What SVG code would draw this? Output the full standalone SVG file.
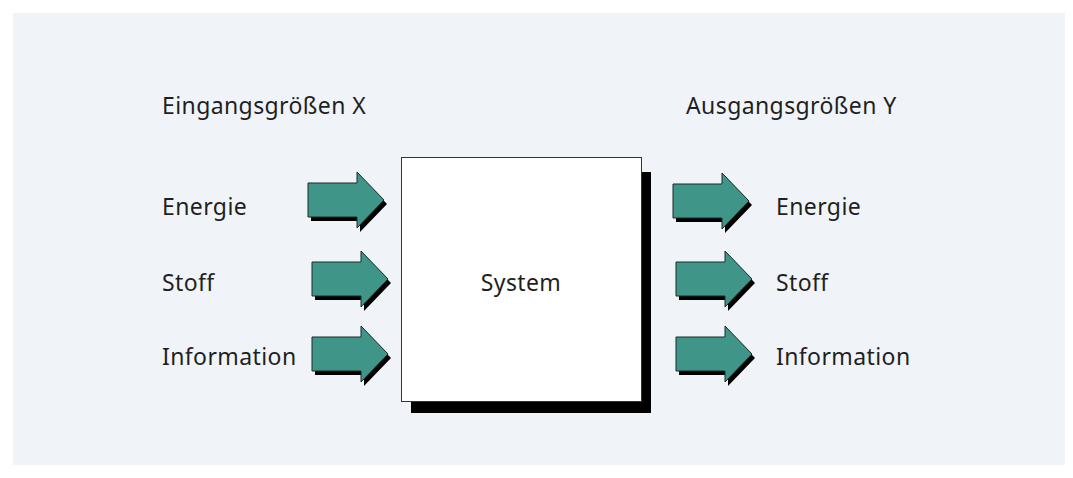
<svg xmlns="http://www.w3.org/2000/svg" width="1073" height="478" viewBox="0 0 1073 478">
<defs>
<style>
.t{font-family:"Noto Sans","Open Sans","DejaVu Sans",sans-serif;font-size:23px;letter-spacing:0.4px;fill:#1f1f1f}
.arr{fill:#3f9688;stroke:#1a2a28;stroke-width:1}
.sh{fill:#000}
</style>
<path id="arrowShape" d="M0,-17 L49,-17 L49,-28 L76,0 L49,28 L49,17 L0,17 Z"/>
</defs>
<rect x="0" y="0" width="1073" height="478" fill="#ffffff"/>
<rect x="13" y="13" width="1052" height="452" fill="#f0f4f8"/>
<g id="labels">
<text class="t" x="162" y="114">Eingangsgrößen X</text>
<text class="t" x="686" y="114">Ausgangsgrößen Y</text>
</g>
<g id="system">
<rect x="411" y="172" width="240" height="241" class="sh"/>
<rect x="401.5" y="157.5" width="240" height="244" fill="#ffffff" stroke="#333" stroke-width="1"/>
<text class="t" x="521" y="291" text-anchor="middle">System</text>
</g>
<g id="in-energie">
<text class="t" x="162" y="215">Energie</text>
</g>
<g id="in-stoff">
<text class="t" x="162" y="291">Stoff</text>
</g>
<g id="in-information">
<text class="t" x="162" y="365">Information</text>
</g>
<g id="out-energie">
<text class="t" x="776" y="215">Energie</text>
</g>
<g id="out-stoff">
<text class="t" x="776" y="291">Stoff</text>
</g>
<g id="out-information">
<text class="t" x="776" y="365">Information</text>
</g>
<g id="connectors">
<use href="#arrowShape" class="sh" transform="translate(311,204)"/>
<use href="#arrowShape" class="arr" transform="translate(308,200)"/>
<use href="#arrowShape" class="sh" transform="translate(315,283)"/>
<use href="#arrowShape" class="arr" transform="translate(312,279)"/>
<use href="#arrowShape" class="sh" transform="translate(315,358)"/>
<use href="#arrowShape" class="arr" transform="translate(312,354)"/>
<use href="#arrowShape" class="sh" transform="translate(676,205)"/>
<use href="#arrowShape" class="arr" transform="translate(673,201)"/>
<use href="#arrowShape" class="sh" transform="translate(679,283)"/>
<use href="#arrowShape" class="arr" transform="translate(676,279)"/>
<use href="#arrowShape" class="sh" transform="translate(679,358)"/>
<use href="#arrowShape" class="arr" transform="translate(676,354)"/>
</g>
</svg>
